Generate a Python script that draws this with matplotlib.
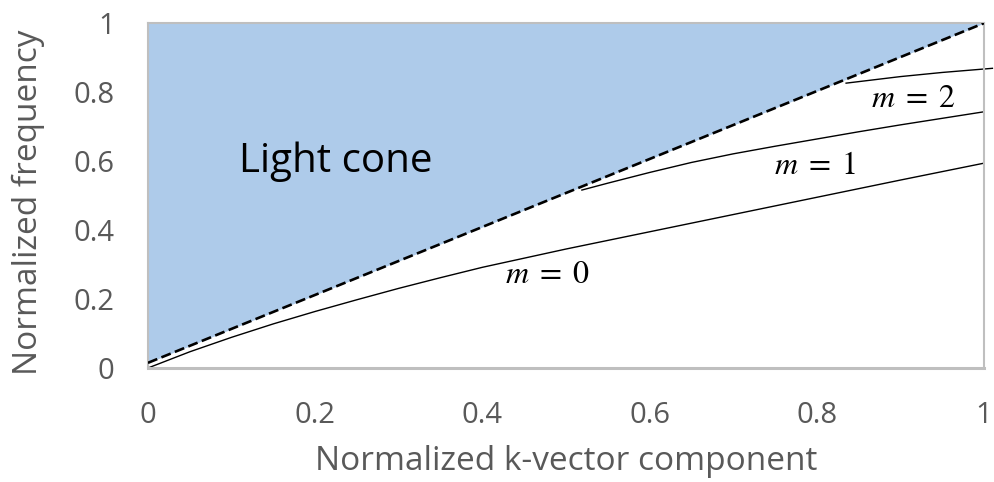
import numpy as np
import matplotlib
matplotlib.use('Agg')
import matplotlib.pyplot as plt

# light line (dashed) and the three guided modes
light_x = [0.0, 1.0]
light_y = [0.015, 1.0]

m0_x = [0.0, 0.05, 0.1, 0.15, 0.2, 0.25, 0.3, 0.35, 0.4, 0.5, 0.6, 0.7, 0.8, 0.9, 1.0]
m0_y = [0.0, 0.047, 0.089, 0.128, 0.164, 0.198, 0.231, 0.262, 0.292, 0.345, 0.395, 0.445, 0.495, 0.545, 0.594]

m1_x = [0.519, 0.55, 0.6, 0.65, 0.7, 0.75, 0.8, 0.85, 0.9, 0.95, 1.0]
m1_y = [0.516, 0.536, 0.567, 0.596, 0.621, 0.643, 0.664, 0.685, 0.705, 0.724, 0.743]

m2_x = [0.835, 0.9, 0.95, 1.01]
m2_y = [0.826, 0.845, 0.857, 0.869]

mode_labels = ['$m\\;=\\;0$', '$m\\;=\\;1$', '$m\\;=\\;2$']
label_x = [0.477, 0.798, 0.915]
label_y = [0.270, 0.588, 0.782]

ticks = [0, 0.2, 0.4, 0.6, 0.8, 1]
tick_labels = ['0', '0.2', '0.4', '0.6', '0.8', '1']

plt.rcParams['font.family'] = ['Open Sans', 'DejaVu Sans']
plt.rcParams['mathtext.fontset'] = 'stix'

fig = plt.figure(figsize=(9.95, 4.82), dpi=100)
ax = fig.add_axes([0.1487, 0.2365, 0.8403, 0.7155])

lx = np.array(light_x)
ly = np.array(light_y)
ax.fill_between(lx, ly, 1.0, color='#AECBEA', lw=0, zorder=1)
ax.plot(lx, ly, color='black', lw=1.9, dashes=(3.8, 1.7), zorder=3)

ax.plot(m0_x, m0_y, color='black', lw=1.0, zorder=2)
ax.plot(m1_x, m1_y, color='black', lw=1.0, zorder=2)
ax.plot(m2_x, m2_y, color='black', lw=1.0, zorder=2, clip_on=False)

for s, x, y in zip(mode_labels, label_x, label_y):
    ax.text(x, y, s, fontsize=23, ha='center', va='center', color='black')

ax.text(0.225, 0.597, 'Light cone', fontsize=29, ha='center', va='center', color='black')

ax.set_xlim(0, 1)
ax.set_ylim(0, 1)
ax.set_xticks(ticks)
ax.set_xticklabels(tick_labels)
ax.set_yticks(ticks)
ax.set_yticklabels(tick_labels)
ax.tick_params(length=0, labelsize=21, labelcolor='#595959')
ax.tick_params(axis='y', pad=24)
ax.tick_params(axis='x', pad=24)

for sp in ax.spines.values():
    sp.set_color('#BFBFBF')
    sp.set_linewidth(1.5)
ax.spines['bottom'].set_linewidth(2.2)

ax.set_xlabel('Normalized k-vector component', fontsize=24, color='#595959', va='center')
ax.set_ylabel('Normalized frequency', fontsize=24, color='#595959', va='center')
ax.xaxis.set_label_coords(0.5, -0.272)
ax.yaxis.set_label_coords(-0.1435, 0.48)

fig.savefig('out.png', dpi=100)
